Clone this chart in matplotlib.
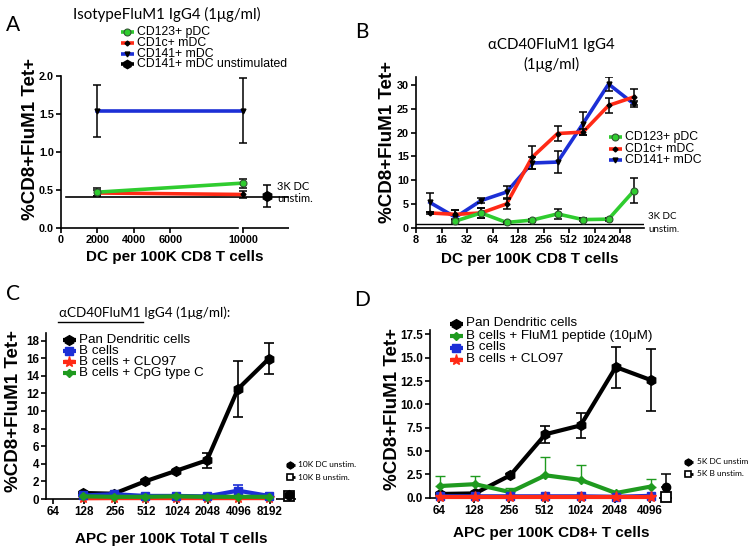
import matplotlib
matplotlib.use('Agg')
import matplotlib.pyplot as plt
from matplotlib.lines import Line2D
from matplotlib.ticker import FixedLocator, FixedFormatter, NullLocator

W, H = 754, 551
SANS = ['Liberation Sans', 'DejaVu Sans']
SOFT = ['Lato', 'DejaVu Sans']

# ---------------- Panel A data ----------------
a_x = [1950, 10000]
a_pdc = [0.47, 0.59]
a_pdc_err = [0.05, 0.06]
a_cd1c = [0.46, 0.44]
a_cd1c_err = [0.04, 0.04]
a_cd141 = [1.54, 1.54]
a_cd141_err = [0.34, 0.43]
a_unstim_x = [11300]
a_unstim = [0.42]
a_unstim_err = [0.15]
a_unstim_line = 0.41
a_xticks = [0, 2000, 4000, 6000, 10000]
a_yticks = [0.0, 0.5, 1.0, 1.5, 2.0]
a_labels = ['CD123+ pDC', 'CD1c+ mDC', 'CD141+ mDC', 'CD141+ mDC unstimulated']

# ---------------- Panel B data ----------------
b_x = [11.7, 23.4, 46.9, 93.75, 187.5, 375, 750, 1500, 3000]
b_cd141 = [5.3, 2.2, 5.7, 7.5, 13.6, 13.8, 21.9, 30.2, 26.0]
b_cd141_err = [1.9, 1.5, 0.5, 1.3, 1.2, 2.35, 2.5, 1.5, 0.6]
b_cd1c = [3.1, 2.8, 3.1, 5.0, 14.8, 19.8, 20.1, 25.7, 27.5]
b_cd1c_err = [0.3, 1.0, 1.0, 1.0, 2.4, 1.5, 0.7, 1.6, 1.7]
b_pdc_x = [23.4, 46.9, 93.75, 187.5, 375, 750, 1500, 3000]
b_pdc = [1.4, 3.1, 1.1, 1.6, 2.9, 1.7, 1.8, 7.8]
b_pdc_err = [0.3, 1.0, 0.2, 0.3, 1.1, 0.3, 0.3, 2.6]
b_unstim_line = 0.7
b_xticks = [8, 16, 32, 64, 128, 256, 512, 1024, 2048]
b_yticks = [0, 5, 10, 15, 20, 25, 30]
b_labels = ['CD123+ pDC', 'CD1c+ mDC', 'CD141+ mDC']

# ---------------- Panel C data ----------------
c_x = [125, 250, 500, 1000, 2000, 4000, 8000]
c_dc = [0.68, 0.6, 2.0, 3.2, 4.4, 12.5, 15.95]
c_dc_err = [0.1, 0.1, 0.15, 0.15, 0.85, 3.15, 1.8]
c_b = [0.4, 0.55, 0.35, 0.35, 0.3, 0.95, 0.35]
c_b_err = [0.1, 0.1, 0.1, 0.1, 0.1, 0.65, 0.1]
c_clo = [0.08, 0.1, 0.1, 0.1, 0.1, 0.1, 0.1]
c_cpg = [0.3, 0.25, 0.25, 0.3, 0.25, 0.25, 0.25]
c_unstim_x = [12500]
c_unstim_dc = [0.4]
c_unstim_b = [0.38]
c_xticks = [64, 128, 256, 512, 1024, 2048, 4096, 8192]
c_yticks = [0, 2, 4, 6, 8, 10, 12, 14, 16, 18]
c_labels = ['Pan Dendritic cells', 'B cells', 'B cells + CLO97', 'B cells + CpG type C']
c_unstim_labels = ['10K DC unstim.', '10K B unstim.']

# ---------------- Panel D data ----------------
d_x = [65, 130, 260, 520, 1040, 2080, 4160]
d_dc = [0.4, 0.46, 2.4, 6.8, 7.75, 14.0, 12.6]
d_dc_err = [0.1, 0.1, 0.15, 0.9, 1.3, 2.2, 3.3]
d_pep = [1.25, 1.45, 0.6, 2.4, 1.9, 0.5, 1.2]
d_pep_err = [1.05, 0.85, 0.4, 2.0, 1.6, 0.1, 0.8]
d_b = [0.15, 0.15, 0.15, 0.15, 0.15, 0.1, 0.2]
d_clo = [0.08, 0.08, 0.08, 0.08, 0.08, 0.08, 0.08]
d_unstim_x = [5580]
d_unstim_dc = [1.2]
d_unstim_dc_err = [1.3]
d_unstim_b = [0.1]
d_xticks = [64, 128, 256, 512, 1024, 2048, 4096]
d_yticks = [0.0, 2.5, 5.0, 7.5, 10.0, 12.5, 15.0, 17.5]
d_labels = ['Pan Dendritic cells', 'B cells + FluM1 peptide (10\u03bcM)', 'B cells', 'B cells + CLO97']
d_unstim_labels = ['5K DC unstim', '5K B unstim.']

YLABEL = '%CD8+FluM1 Tet+'

GREEN_AB = '#2fcc2f'
GREEN_CD = '#1f9a1f'
RED = '#ff2a16'
BLUE = '#1c2fd6'

YL_FS = 13.5
XL_FS = 11

fig = plt.figure(figsize=(W / 100, H / 100), dpi=100)


def ax_px(l, t, r, b):
    return fig.add_axes([l / W, 1 - b / H, (r - l) / W, (b - t) / H])


def style(ax, fs=7.8):
    for s in ('top', 'right'):
        ax.spines[s].set_visible(False)
    for s in ('left', 'bottom'):
        ax.spines[s].set_linewidth(1.2)
    ax.tick_params(direction='out', length=3.5, width=1.2, labelsize=fs, pad=1.5)
    for lab in ax.get_xticklabels() + ax.get_yticklabels():
        lab.set_fontweight('bold')
        lab.set_family(SANS)


def fx(px):
    return px / W


def fy(py):
    return 1 - py / H


def legend_rows(entries, xm, xt, y0, dy, fs, hl=13, family=SANS):
    for i, (label, lkw, mkw) in enumerate(entries):
        y = y0 + i * dy
        fig.add_artist(Line2D([fx(xm - hl / 2), fx(xm + hl / 2)], [fy(y), fy(y)],
                              transform=fig.transFigure, solid_capstyle='butt', **lkw))
        fig.add_artist(Line2D([fx(xm)], [fy(y)], transform=fig.transFigure, linestyle='none', **mkw))
        fig.text(fx(xt), fy(y), label, va='center', ha='left', fontsize=fs, family=family)


def break_axis(ax, xb0, xb1, xmax):
    ax.spines['bottom'].set_bounds(ax.get_xlim()[0], xb0)
    ax.plot([xb1, xmax], [0, 0], color='k', lw=1.2, transform=ax.get_xaxis_transform(),
            clip_on=False, solid_capstyle='butt')


# ======================= Panel A =======================
axA = ax_px(61, 75.7, 289, 228)
axA.set_xlim(0, 12500)
axA.set_ylim(0, 2.0)
axA.axhline(a_unstim_line, xmin=0.02, xmax=1.0, color='k', lw=1.2, zorder=2)
axA.plot(a_x, a_cd141, color=BLUE, lw=2.6, zorder=3)
axA.plot(a_x, a_cd1c, color=RED, lw=2.6, zorder=3)
axA.plot(a_x, a_pdc, color=GREEN_AB, lw=2.6, zorder=4)
for y, e in ((a_cd141, a_cd141_err), (a_cd1c, a_cd1c_err), (a_pdc, a_pdc_err)):
    axA.errorbar(a_x, y, yerr=e, fmt='none', ecolor='k', elinewidth=1.1, capsize=3, capthick=1.1, zorder=5)
axA.plot(a_x, a_cd141, 'v', color='k', ms=3.5, zorder=6)
axA.plot(a_x, a_cd1c, 'D', color='k', ms=2.5, zorder=6)
axA.plot(a_x, a_pdc, 'o', mfc=GREEN_AB, mec='#335533', mew=0.8, ms=5, zorder=6)
axA.errorbar(a_unstim_x, a_unstim, yerr=a_unstim_err, fmt='h', color='k', ms=7,
             elinewidth=1.1, capsize=3, capthick=1.1, zorder=6, clip_on=False)
axA.xaxis.set_major_locator(FixedLocator(a_xticks))
axA.xaxis.set_major_formatter(FixedFormatter([str(v) for v in a_xticks]))
axA.yaxis.set_major_locator(FixedLocator(a_yticks))
axA.yaxis.set_major_formatter(FixedFormatter(['%.1f' % v for v in a_yticks]))
style(axA)
break_axis(axA, 9700, 9900, 12500)
axA.set_ylabel(YLABEL, fontsize=YL_FS, fontweight='bold', family=SANS)
axA.yaxis.set_label_coords(-0.096, 0.584)
axA.set_xlabel('DC per 100K CD8 T cells', fontsize=XL_FS, fontweight='bold', family=SANS, labelpad=4)

fig.text(fx(167), fy(14), 'IsotypeFluM1 IgG4 (1\u03bcg/ml)', ha='center', va='center', fontsize=10.8, family=SOFT)
fig.text(fx(13), fy(25), 'A', ha='center', va='center', fontsize=15, family=SOFT)
fig.text(fx(277), fy(187), '3K DC', ha='left', va='center', fontsize=8, family=SOFT)
fig.text(fx(277), fy(199), 'unstim.', ha='left', va='center', fontsize=8, family=SOFT)

legend_rows([
    (a_labels[0], dict(color=GREEN_AB, lw=2.6), dict(marker='o', ms=5, mfc=GREEN_AB, mec='#335533', mew=0.8)),
    (a_labels[1], dict(color=RED, lw=2.6), dict(marker='D', ms=2.5, color='k')),
    (a_labels[2], dict(color=BLUE, lw=2.6), dict(marker='v', ms=3.5, color='k')),
    (a_labels[3], dict(color='k', lw=2.6), dict(marker='h', ms=6, color='k')),
], xm=127, xt=137, y0=32.3, dy=10.7, fs=8.8)

# ======================= Panel B =======================
axB = ax_px(416, 77.4, 644, 227.7)
axB.set_xscale('log', base=2)
axB.set_xlim(8, 3930)
axB.set_ylim(0, 31.6)
axB.axhline(b_unstim_line, color='k', lw=1.0, zorder=2)
axB.plot(b_x, b_cd141, color=BLUE, lw=2.6, zorder=3)
axB.plot(b_x, b_cd1c, color=RED, lw=2.6, zorder=3)
axB.plot(b_pdc_x, b_pdc, color=GREEN_AB, lw=2.6, zorder=4)
for xx, y, e in ((b_x, b_cd141, b_cd141_err), (b_x, b_cd1c, b_cd1c_err), (b_pdc_x, b_pdc, b_pdc_err)):
    axB.errorbar(xx, y, yerr=e, fmt='none', ecolor='k', elinewidth=1.1, capsize=3, capthick=1.1, zorder=5)
axB.plot(b_x, b_cd141, 'v', color='k', ms=3.5, zorder=6)
axB.plot(b_x, b_cd1c, 'D', color='k', ms=2.5, zorder=6)
axB.plot(b_pdc_x, b_pdc, 'o', mfc=GREEN_AB, mec='#335533', mew=0.8, ms=5, zorder=6, clip_on=False)
axB.xaxis.set_major_locator(FixedLocator(b_xticks))
axB.xaxis.set_major_formatter(FixedFormatter([str(v) for v in b_xticks]))
axB.xaxis.set_minor_locator(NullLocator())
axB.yaxis.set_major_locator(FixedLocator(b_yticks))
axB.yaxis.set_major_formatter(FixedFormatter([str(v) for v in b_yticks]))
style(axB)
axB.set_ylabel(YLABEL, fontsize=YL_FS, fontweight='bold', family=SANS)
axB.yaxis.set_label_coords(-0.088, 0.57)
axB.set_xlabel('DC per 100K CD8 T cells', fontsize=XL_FS, fontweight='bold', family=SANS, labelpad=5)

fig.text(fx(551), fy(45), '\u03b1CD40FluM1 IgG4', ha='center', va='center', fontsize=10.8, family=SOFT)
fig.text(fx(551), fy(64), '(1\u03bcg/ml)', ha='center', va='center', fontsize=10.8, family=SOFT)
fig.text(fx(362), fy(32), 'B', ha='center', va='center', fontsize=15, family=SOFT)
fig.text(fx(648), fy(217), '3K DC', ha='left', va='center', fontsize=7, family=SOFT)
fig.text(fx(648), fy(229), 'unstim.', ha='left', va='center', fontsize=7, family=SOFT)

legend_rows([
    (b_labels[0], dict(color=GREEN_AB, lw=2.6), dict(marker='o', ms=5, mfc=GREEN_AB, mec='#335533', mew=0.8)),
    (b_labels[1], dict(color=RED, lw=2.6), dict(marker='D', ms=2.5, color='k')),
    (b_labels[2], dict(color=BLUE, lw=2.6), dict(marker='v', ms=3.5, color='k')),
], xm=615, xt=625, y0=137, dy=11.5, fs=8.8)

# ======================= Panel C =======================
axC = ax_px(46, 333, 296, 499)
axC.set_xscale('log', base=2)
axC.set_xlim(54.7, 14650)
axC.set_ylim(0, 18.86)
axC.plot(c_x, c_dc, color='k', lw=3, zorder=3, clip_on=False)
axC.errorbar(c_x, c_dc, yerr=c_dc_err, fmt='none', ecolor='k', elinewidth=1.2, capsize=3.5, capthick=1.2, zorder=3)
axC.plot(c_x, c_dc, 'h', color='k', ms=7, zorder=3, clip_on=False)
axC.plot(c_x, c_clo, color=RED, lw=3, marker='*', ms=8, zorder=4, clip_on=False)
axC.errorbar(c_x, c_b, yerr=c_b_err, fmt='s-', color=BLUE, lw=3, ms=6, elinewidth=1.2,
             capsize=3.5, capthick=1.2, zorder=5, clip_on=False)
axC.plot(c_x, c_cpg, color=GREEN_CD, lw=3, marker='D', ms=4.5, zorder=6, clip_on=False)
axC.plot(c_unstim_x, c_unstim_b, 's', mfc='white', mec='k', mew=1.3, ms=7, zorder=7, clip_on=False)
axC.plot(c_unstim_x, c_unstim_dc, 'h', color='k', ms=7, zorder=8, clip_on=False)
axC.xaxis.set_major_locator(FixedLocator(c_xticks))
axC.xaxis.set_major_formatter(FixedFormatter([str(v) for v in c_xticks]))
axC.xaxis.set_minor_locator(NullLocator())
axC.yaxis.set_major_locator(FixedLocator(c_yticks))
axC.yaxis.set_major_formatter(FixedFormatter([str(v) for v in c_yticks]))
style(axC, fs=8.4)
break_axis(axC, 8800, 9400, 14650)
axC.set_ylabel(YLABEL, fontsize=YL_FS, fontweight='bold', family=SANS)
axC.yaxis.set_label_coords(-0.096, 0.53)
axC.set_xlabel('APC per 100K Total T cells', fontsize=XL_FS, fontweight='bold', family=SANS, labelpad=10)

fig.text(fx(13), fy(294), 'C', ha='center', va='center', fontsize=15, family=SOFT)
fig.text(fx(59), fy(313), '\u03b1CD40FluM1 IgG4 (1\u03bcg/ml):', ha='left', va='center', fontsize=9.7, family=SOFT)
fig.add_artist(Line2D([fx(58), fx(143)], [fy(322), fy(322)], transform=fig.transFigure, color='k', lw=1.0))

legend_rows([
    (c_labels[0], dict(color='k', lw=3), dict(marker='h', ms=7, color='k')),
    (c_labels[1], dict(color=BLUE, lw=3), dict(marker='s', ms=6, color=BLUE)),
    (c_labels[2], dict(color=RED, lw=3), dict(marker='*', ms=8, color=RED)),
    (c_labels[3], dict(color=GREEN_CD, lw=3), dict(marker='D', ms=4.5, color=GREEN_CD)),
], xm=69, xt=79, y0=340, dy=11.1, fs=9.6)
legend_rows([
    (c_unstim_labels[0], dict(color='k', lw=2), dict(marker='h', ms=5, color='k')),
    (c_unstim_labels[1], dict(color='k', lw=2), dict(marker='s', ms=5, mfc='white', mec='k', mew=1.2)),
], xm=290, xt=298, y0=464.5, dy=12.5, fs=6, hl=9, family=SOFT)

# ======================= Panel D =======================
axD = ax_px(430, 330, 672, 497.7)
axD.set_xscale('log', base=2)
axD.set_xlim(53.5, 6290)
axD.set_ylim(0, 17.97)
axD.plot(d_x, d_dc, color='k', lw=3, zorder=3, clip_on=False)
axD.errorbar(d_x, d_dc, yerr=d_dc_err, fmt='none', ecolor='k', elinewidth=1.2, capsize=3.5, capthick=1.2, zorder=3)
axD.plot(d_x, d_dc, 'h', color='k', ms=7, zorder=3, clip_on=False)
axD.errorbar(d_x, d_pep, yerr=[[0] * len(d_pep), d_pep_err], fmt='-', color=GREEN_CD, lw=3,
             marker='D', ms=4.5, elinewidth=1.0, capsize=3.5, capthick=1.0, zorder=4)
axD.plot(d_x, d_b, color=BLUE, lw=3, marker='s', ms=6, zorder=5, clip_on=False)
axD.plot(d_x, d_clo, color=RED, lw=3, marker='*', ms=8, zorder=6, clip_on=False)
axD.errorbar(d_unstim_x, d_unstim_dc, yerr=[[0], d_unstim_dc_err], fmt='o', color='k', ms=6,
             elinewidth=1.1, capsize=3.5, capthick=1.1, zorder=7)
axD.plot(d_unstim_x, d_unstim_b, 's', mfc='white', mec='k', mew=1.3, ms=7, zorder=7, clip_on=False)
axD.xaxis.set_major_locator(FixedLocator(d_xticks))
axD.xaxis.set_major_formatter(FixedFormatter([str(v) for v in d_xticks]))
axD.xaxis.set_minor_locator(NullLocator())
axD.yaxis.set_major_locator(FixedLocator(d_yticks))
axD.yaxis.set_major_formatter(FixedFormatter(['%.1f' % v for v in d_yticks]))
style(axD, fs=8.4)
break_axis(axD, 4500, 4890, 6290)
axD.set_ylabel(YLABEL, fontsize=YL_FS, fontweight='bold', family=SANS)
axD.yaxis.set_label_coords(-0.12, 0.53)
axD.set_xlabel('APC per 100K CD8+ T cells', fontsize=XL_FS, fontweight='bold', family=SANS, labelpad=7)

fig.text(fx(362), fy(300), 'D', ha='center', va='center', fontsize=15, family=SOFT)

legend_rows([
    (d_labels[0], dict(color='k', lw=3), dict(marker='h', ms=7, color='k')),
    (d_labels[1], dict(color=GREEN_CD, lw=3), dict(marker='D', ms=4.5, color=GREEN_CD)),
    (d_labels[2], dict(color=BLUE, lw=3), dict(marker='s', ms=6, color=BLUE)),
    (d_labels[3], dict(color=RED, lw=3), dict(marker='*', ms=8, color=RED)),
], xm=456, xt=466, y0=323.5, dy=12, fs=9.6)
legend_rows([
    (d_unstim_labels[0], dict(color='k', lw=2), dict(marker='h', ms=5, color='k')),
    (d_unstim_labels[1], dict(color='k', lw=2), dict(marker='s', ms=5, mfc='white', mec='k', mew=1.2)),
], xm=688, xt=697, y0=461.5, dy=12, fs=6, hl=9, family=SOFT)

fig.savefig('out.png', dpi=100)
